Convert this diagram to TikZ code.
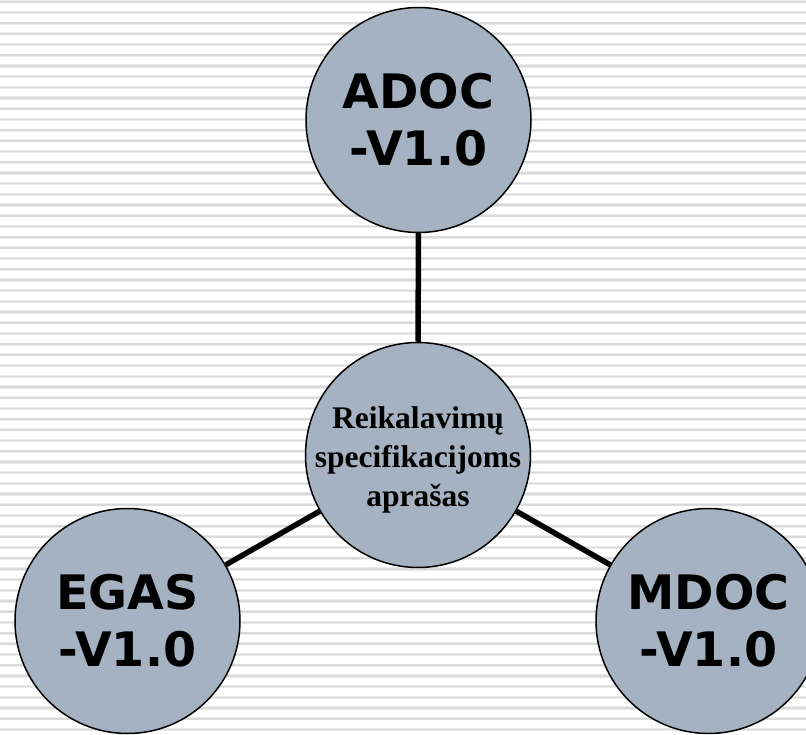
\documentclass[tikz,border=0pt]{standalone}
\usepackage{fontspec}
\newfontfamily\vfont{DejaVu Sans}
\newfontfamily\tfont{Liberation Serif}
\definecolor{circfill}{RGB}{164,178,193}
\definecolor{stripeA}{RGB}{234,234,234}
\definecolor{stripeB}{RGB}{218,218,218}
\tikzset{
  bubble/.style={circle, draw=black, line width=1.5pt, fill=circfill, minimum size=225pt, inner sep=0pt, align=center},
  bigtext/.style={font=\vfont\bfseries\fontsize{47.5}{57}\selectfont},
  midtext/.style={font=\tfont\bfseries\fontsize{31.5}{39}\selectfont, align=center, inner sep=0pt},
  link/.style={line width=5.5pt, draw=black}
}
\begin{document}
\begin{tikzpicture}[x=1pt,y=-1pt]
\useasboundingbox (0,0) rectangle (806,735);
\fill[white] (0,0) rectangle (806,735);
\foreach \i in {0,...,69}{
  \fill[stripeA] (0,{0.2+10.7*\i}) rectangle (806,{3.4+10.7*\i});
  \fill[stripeB] (0,{1.0+10.7*\i}) rectangle (806,{2.6+10.7*\i});
}
\node[bubble, bigtext] (adoc) at (418.5,120) {ADOC\\-V1.0};
\node[bubble] (req) at (418,455) {};
\node[midtext] (reqtext) at ([yshift=-5pt]req.center) {Reikalavimų\\specifikacijoms\\aprašas};
\node[bubble, bigtext] (egas) at (127.5,621) {EGAS\\-V1.0};
\node[bubble, bigtext] (mdoc) at (708.5,621) {MDOC\\-V1.0};
\draw[link] (adoc) -- (req);
\draw[link] (req) -- (egas);
\draw[link] (req) -- (mdoc);
\end{tikzpicture}
\end{document}
